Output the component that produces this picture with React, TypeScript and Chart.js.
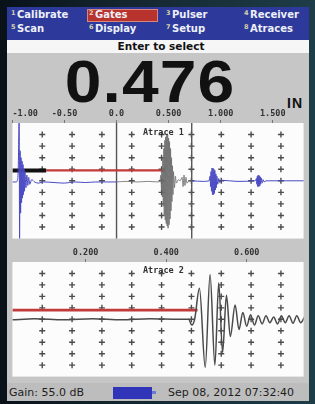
import React, { useEffect, useRef } from "react";
import { Chart, registerables } from "chart.js";
Chart.register(...registerables);

// ---------------- data ----------------
const menuRow1 = ["Calibrate", "Gates", "Pulser", "Receiver"];
const menuRow2 = ["Scan", "Display", "Setup", "Atraces"];
const menuNums1 = ["1", "2", "3", "4"];
const menuNums2 = ["5", "6", "7", "8"];
const promptText = "Enter to select";
const reading = "0.476";
const readingUnit = "IN";
const gainText = "Gain: 55.0 dB";
const dateText = "Sep 08, 2012 07:32:40";
const trace1Title = "Atrace 1";
const trace2Title = "Atrace 2";

// axis ticks (inches)
const trace1Ticks = [-1, -0.5, 0, 0.5, 1, 1.5];
const trace1TickLabels = ["-1.00", "-0.50", "0.0", "0.500", "1.000", "1.500"];
const trace2Ticks = [0.2, 0.4, 0.6];
const trace2TickLabels = ["0.200", "0.400", "0.600"];

// graticule (divisions)
const gridCols = [1, 2, 3, 4, 5, 6, 7, 8, 9];
const gridRows = [-4, -3, -2, -1, 0, 1, 2, 3, 4];

// A-trace 1 : initial pulse (blue)
const pulseX = [-1.0, -0.963, -0.954, -0.944, -0.935, -0.931, -0.926, -0.921, -0.917, -0.912, -0.907, -0.903, -0.898, -0.894, -0.889, -0.884, -0.88, -0.87, -0.861, -0.852, -0.843, -0.833, -0.815, -0.787, -0.75, -0.7, -0.6, -0.5, -0.4, -0.3, -0.2, -0.1, 0.0];
const pulseY = [-0.1, -0.1, 0, 1.0, 5.4, -5.0, 2.6, -2.8, 2.0, -1.9, 1.7, -1.5, 1.4, -1.2, 1.0, -0.9, 0.8, -0.6, 0.5, -0.4, 0.3, -0.3, 0.1, -0.1, -0.2, -0.1, -0.15, -0.2, -0.1, -0.15, -0.1, -0.1, -0.1];
// A-trace 1 : gated echo (grey)
const echoX = [0.0, 0.1, 0.2, 0.3, 0.4, 0.417, 0.426, 0.431, 0.435, 0.44, 0.444, 0.449, 0.454, 0.458, 0.463, 0.468, 0.472, 0.477, 0.481, 0.486, 0.491, 0.495, 0.5, 0.505, 0.509, 0.514, 0.519, 0.523, 0.528, 0.532, 0.537, 0.542, 0.546, 0.556, 0.565, 0.574, 0.593, 0.611, 0.63, 0.639, 0.648, 0.657, 0.667, 0.676, 0.694, 0.722];
const echoY = [-0.1, -0.05, -0.1, -0.05, -0.1, 0, 0.5, -0.7, 1.0, -1.4, 2.0, -2.2, 2.8, -3.0, 3.5, -3.4, 3.8, -3.7, 4.0, -3.9, 4.0, -4.1, 3.7, -3.8, 3.4, -3.3, 2.8, -2.6, 2.0, -1.8, 1.3, -1.2, 0.8, -0.6, 0.4, -0.2, 0.1, 0, 0.3, -0.5, 0.5, -0.4, 0.3, -0.2, 0, 0];
// A-trace 1 : later echoes (blue)
const tailX = [0.722, 0.833, 0.889, 0.898, 0.903, 0.907, 0.912, 0.917, 0.921, 0.926, 0.931, 0.935, 0.94, 0.944, 0.949, 0.954, 0.958, 0.963, 0.972, 0.981, 0.991, 1.009, 1.157, 1.333, 1.343, 1.347, 1.352, 1.356, 1.361, 1.366, 1.37, 1.375, 1.38, 1.384, 1.389, 1.398, 1.407, 1.417, 1.435, 1.62, 1.806];
const tailY = [0, -0.05, 0, 0.4, -0.5, 0.8, -0.9, 1.1, -1.2, 1.1, -1.2, 1.0, -1.1, 0.9, -0.8, 0.6, -0.6, 0.4, -0.3, 0.2, -0.15, 0.05, -0.05, 0, 0.2, -0.3, 0.4, -0.5, 0.5, -0.5, 0.45, -0.45, 0.35, -0.3, 0.25, -0.2, 0.1, -0.1, 0, 0, 0];
// A-trace 1 : cursors and gate
const trace1Cursors = [0.0, 0.722];
const trace1BlankX = [-1.0, -0.676];
const trace1GateX = [-0.676, 0.463];
const trace1GateLevel = 0.9;

// A-trace 2 (zoomed gate view)
const trace2X = [0.018, 0.073, 0.145, 0.217, 0.289, 0.36, 0.432, 0.456, 0.4635, 0.4707, 0.4826, 0.497, 0.509, 0.521, 0.5305, 0.5401, 0.5497, 0.5593, 0.5713, 0.5808, 0.5904, 0.6, 0.6096, 0.6192, 0.6287, 0.6383, 0.6479, 0.6575, 0.6671, 0.6766, 0.6862, 0.6958, 0.7054, 0.715, 0.7245, 0.7341, 0.7437];
const trace2Y = [-0.05, 0.05, -0.05, 0.05, -0.05, 0.05, 0, 0, -0.5, 0, 2.7, -4.2, 3.9, -4.0, 3.2, -2.9, 2.1, -1.5, 1.25, -0.9, 0.6, -0.6, 0.4, -0.5, 0.3, -0.4, 0.3, -0.3, 0.2, -0.4, 0.3, -0.3, 0.3, -0.35, 0.3, -0.3, 0.2];
const trace2GateX = [0.018, 0.478];
const trace2GateLevel = 0.8;

// ---------------- helpers ----------------
const pts = (xs: number[], ys: number[]) => xs.map((x, i) => ({ x, y: ys[i] }));
const flat = (xs: number[], y: number) => xs.map((x) => ({ x, y }));

const plotBg = {
  id: "plotBg",
  beforeDraw(chart: any) {
    const { ctx, chartArea: a } = chart;
    ctx.save();
    ctx.fillStyle = "#fcfcfc";
    ctx.fillRect(a.left, a.top, a.right - a.left, a.bottom - a.top);
    ctx.restore();
  },
};

const signal = (data: any[], color: string, width: number) => ({
  type: "line",
  data,
  borderColor: color,
  borderWidth: width,
  pointRadius: 0,
  cubicInterpolationMode: "monotone",
  fill: false,
});
const straight = (data: any[], color: string, width: number) => ({
  type: "line",
  data,
  borderColor: color,
  borderWidth: width,
  pointRadius: 0,
  tension: 0,
  fill: false,
  borderCapStyle: "butt",
});
const graticule = () => ({
  type: "scatter",
  xAxisID: "xg",
  data: gridCols.flatMap((c) => gridRows.map((r) => ({ x: c, y: r }))),
  pointStyle: "cross",
  pointRadius: 3,
  pointBorderColor: "#4c4c4c",
  pointBorderWidth: 1.4,
  showLine: false,
});

const tickFont = { family: "DejaVu Sans Mono", weight: "bold" as const, size: 8.5 };

function topAxis(min: number, max: number, ticks: number[], labels: string[], padFirst: boolean) {
  return {
    type: "linear",
    position: "top",
    min,
    max,
    afterBuildTicks: (s: any) => {
      s.ticks = ticks.map((v) => ({ value: v }));
    },
    afterFit: (s: any) => {
      s.height = 17;
      s.paddingLeft = 0;
      s.paddingRight = 0;
    },
    ticks: {
      autoSkip: false,
      maxRotation: 0,
      padding: 1,
      color: "#333",
      font: tickFont,
      callback: (_v: any, i: number) => (padFirst && i === 0 ? "     " + labels[i] : labels[i]),
    },
    grid: { drawOnChartArea: false, tickLength: 3, color: "#777" },
    border: { display: false },
  };
}

function baseOptions(xScale: any) {
  return {
    responsive: false,
    devicePixelRatio: 1,
    animation: false,
    events: [],
    layout: { padding: 0 },
    plugins: { legend: { display: false }, tooltip: { enabled: false }, title: { display: false } },
    scales: {
      x: xScale,
      xg: { type: "linear", display: false, min: 0, max: 9.76 },
      y: { type: "linear", display: false, min: -5, max: 5 },
    },
  };
}

export default function App() {
  const c1 = useRef<HTMLCanvasElement>(null);
  const c2 = useRef<HTMLCanvasElement>(null);

  useEffect(() => {
    const ch1 = new Chart(c1.current as HTMLCanvasElement, {
      type: "line",
      data: {
        datasets: [
          signal(pts(echoX, echoY), "#6a6a6a", 0.8),
          signal(pts(pulseX, pulseY), "#4a4ac4", 1),
          signal(pts(tailX, tailY), "#4a4ac4", 1),
          straight(flat(trace1BlankX, trace1GateLevel), "#111111", 4),
          straight(flat(trace1GateX, trace1GateLevel), "#c23a3a", 2.2),
          ...trace1Cursors.map((c) => straight([{ x: c, y: -5.5 }, { x: c, y: 5.5 }], "#555555", 1.4)),
          graticule(),
        ] as any,
      },
      options: baseOptions(topAxis(-1, -1 + 302 / 108, trace1Ticks, trace1TickLabels, true)) as any,
      plugins: [plotBg],
    });
    const ch2 = new Chart(c2.current as HTMLCanvasElement, {
      type: "line",
      data: {
        datasets: [
          signal(pts(trace2X, trace2Y), "#4a4a4a", 1.5),
          straight(flat(trace2GateX, trace2GateLevel), "#c23a3a", 2.8),
          graticule(),
        ] as any,
      },
      options: baseOptions(topAxis(0.018, 0.018 + 302 / 417.5, trace2Ticks, trace2TickLabels, false)) as any,
      plugins: [plotBg],
    });
    return () => {
      ch1.destroy();
      ch2.destroy();
    };
  }, []);

  const abs = (s: React.CSSProperties): React.CSSProperties => ({ position: "absolute", ...s });
  const menuCols = [11, 89, 166, 244];
  const menuText: React.CSSProperties = {
    fontFamily: "DejaVu Sans",
    fontWeight: "bold",
    fontSize: 10,
    lineHeight: "12px",
    color: "#eef0f8",
    whiteSpace: "nowrap",
  };
  const numStyle: React.CSSProperties = {
    fontFamily: "DejaVu Sans",
    fontWeight: "bold",
    fontSize: 6.5,
    lineHeight: "8px",
    color: "#d8d2a8",
  };

  return (
    <div
      style={abs({
        left: 0,
        top: 0,
        width: 315,
        height: 404,
        overflow: "hidden",
        background: "linear-gradient(90deg,#091119 0%,#13242d 35%,#1d3d48 100%)",
      })}
    >
      {/* menu */}
      <div style={abs({ left: 7, top: 7, width: 302, height: 33, background: "#2d3a9c" })} />
      <div
        style={abs({
          left: 87,
          top: 9,
          width: 71,
          height: 13,
          background: "#b8322e",
          border: "1px solid #d9857c",
          boxSizing: "border-box",
        })}
      />
      {menuRow1.map((t, i) => (
        <React.Fragment key={"r1" + i}>
          <span style={abs({ left: menuCols[i], top: 9, ...numStyle })}>{menuNums1[i]}</span>
          <span style={abs({ left: menuCols[i] + 6, top: 9, ...menuText })}>{t}</span>
        </React.Fragment>
      ))}
      {menuRow2.map((t, i) => (
        <React.Fragment key={"r2" + i}>
          <span style={abs({ left: menuCols[i], top: 23, ...numStyle })}>{menuNums2[i]}</span>
          <span style={abs({ left: menuCols[i] + 6, top: 23, ...menuText })}>{t}</span>
        </React.Fragment>
      ))}

      {/* prompt */}
      <div
        style={abs({
          left: 7,
          top: 40,
          width: 302,
          height: 13,
          background: "#f6f6f6",
          textAlign: "center",
          fontFamily: "DejaVu Sans",
          fontWeight: "bold",
          fontSize: 10.5,
          lineHeight: "13px",
          color: "#111",
        })}
      >
        <span style={{ position: "relative", left: 3 }}>{promptText}</span>
      </div>

      {/* grey body */}
      <div style={abs({ left: 7, top: 53, width: 302, height: 330, background: "#c6c6c6" })} />

      {/* reading */}
      <div
        style={abs({
          left: 7,
          top: 52,
          width: 286,
          textAlign: "center",
          fontFamily: "Liberation Sans",
          fontWeight: "bold",
          fontSize: 60,
          lineHeight: "60px",
          letterSpacing: 1,
          color: "#111",
          transform: "scaleX(1.1)",
          transformOrigin: "50% 50%",
        })}
      >
        {reading}
      </div>
      <div
        style={abs({
          left: 287,
          top: 96,
          fontFamily: "Liberation Sans",
          fontWeight: "bold",
          fontSize: 14,
          lineHeight: "14px",
          letterSpacing: 1,
          color: "#111",
        })}
      >
        {readingUnit}
      </div>

      {/* charts */}
      <canvas ref={c1} width={302} height={138} style={abs({ left: 7, top: 106, width: 302, height: 138 })} />
      <canvas ref={c2} width={302} height={137} style={abs({ left: 7, top: 245, width: 302, height: 137 })} />
      <div
        style={abs({
          left: 143,
          top: 127,
          fontFamily: "DejaVu Sans Mono",
          fontWeight: "bold",
          fontSize: 8.5,
          lineHeight: "10px",
          color: "#333",
        })}
      >
        {trace1Title}
      </div>
      <div
        style={abs({
          left: 143,
          top: 265,
          fontFamily: "DejaVu Sans Mono",
          fontWeight: "bold",
          fontSize: 8.5,
          lineHeight: "10px",
          color: "#333",
        })}
      >
        {trace2Title}
      </div>

      {/* status bar */}
      <div style={abs({ left: 7, top: 383, width: 302, height: 18, background: "#bdbdbd" })} />
      <div
        style={abs({
          left: 9,
          top: 386,
          fontFamily: "DejaVu Sans",
          fontSize: 11,
          lineHeight: "14px",
          color: "#1e1e1e",
          whiteSpace: "nowrap",
        })}
      >
        {gainText}
      </div>
      <div style={abs({ left: 113, top: 387, width: 39, height: 12, background: "#3034b8" })} />
      <div style={abs({ left: 152, top: 391, width: 4, height: 3, background: "#6a78d8" })} />
      <div
        style={abs({
          left: 168,
          top: 386,
          fontFamily: "DejaVu Sans",
          fontSize: 11,
          lineHeight: "14px",
          color: "#1e1e1e",
          whiteSpace: "nowrap",
        })}
      >
        {dateText}
      </div>
    </div>
  );
}
